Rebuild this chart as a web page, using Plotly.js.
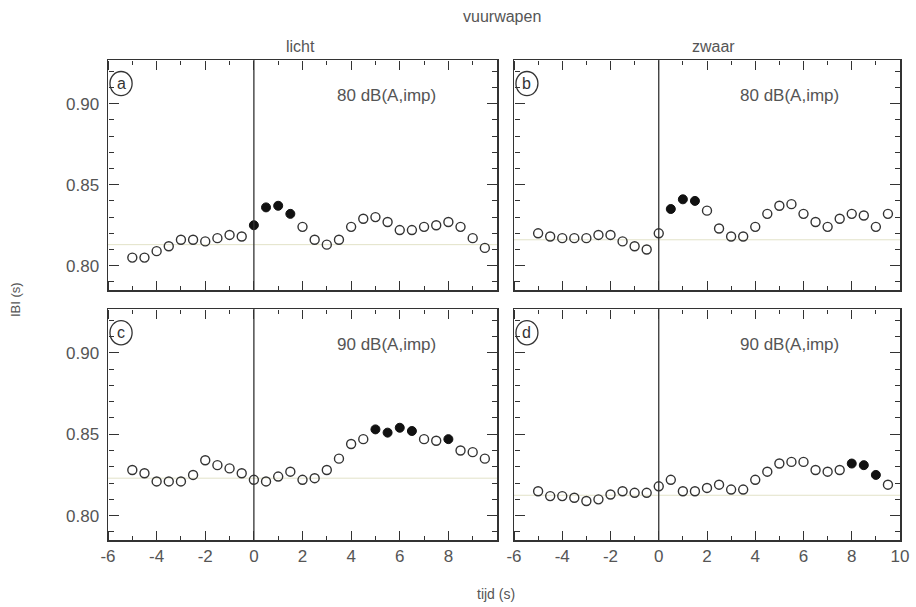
<!DOCTYPE html>
<html>
<head>
<meta charset="utf-8">
<script src="https://cdn.plot.ly/plotly-3.0.1.min.js"></script>
<style>html,body{margin:0;padding:0;background:#fff;}#chart{width:916px;height:607px;}</style>
</head>
<body>
<div id="chart"></div>
<script>
// time (s), 0.5 s steps
const tijd = [-5,-4.5,-4,-3.5,-3,-2.5,-2,-1.5,-1,-0.5,0,0.5,1,1.5,2,2.5,3,3.5,4,4.5,5,5.5,6,6.5,7,7.5,8,8.5,9,9.5];

// panel a: licht, 80 dB(A,imp)
const ibiA = [0.805,0.805,0.809,0.812,0.816,0.816,0.815,0.817,0.819,0.818,0.825,0.836,0.837,0.832,0.824,0.816,0.813,0.816,0.824,0.829,0.830,0.827,0.822,0.822,0.824,0.825,0.827,0.824,0.817,0.811];
const filledA = [0,0,0,0,0,0,0,0,0,0,1,1,1,1,0,0,0,0,0,0,0,0,0,0,0,0,0,0,0,0];
// panel b: zwaar, 80 dB(A,imp)
const ibiB = [0.820,0.818,0.817,0.817,0.817,0.819,0.819,0.815,0.812,0.810,0.820,0.835,0.841,0.840,0.834,0.823,0.818,0.818,0.824,0.832,0.837,0.838,0.832,0.827,0.824,0.829,0.832,0.831,0.824,0.832];
const filledB = [0,0,0,0,0,0,0,0,0,0,0,1,1,1,0,0,0,0,0,0,0,0,0,0,0,0,0,0,0,0];
// panel c: licht, 90 dB(A,imp)
const ibiC = [0.828,0.826,0.821,0.821,0.821,0.825,0.834,0.831,0.829,0.826,0.822,0.821,0.824,0.827,0.822,0.823,0.828,0.835,0.844,0.847,0.853,0.851,0.854,0.852,0.847,0.846,0.847,0.840,0.839,0.835];
const filledC = [0,0,0,0,0,0,0,0,0,0,0,0,0,0,0,0,0,0,0,0,1,1,1,1,0,0,1,0,0,0];
// panel d: zwaar, 90 dB(A,imp)
const ibiD = [0.815,0.812,0.812,0.811,0.809,0.810,0.813,0.815,0.814,0.814,0.818,0.822,0.815,0.815,0.817,0.819,0.816,0.816,0.822,0.827,0.832,0.833,0.833,0.828,0.827,0.828,0.832,0.831,0.825,0.819];
const filledD = [0,0,0,0,0,0,0,0,0,0,0,0,0,0,0,0,0,0,0,0,0,0,0,0,0,0,1,1,1,0];

const baselines = [0.813, 0.816, 0.823, 0.8125];
const panelLetters = ['a','b','c','d'];
const levelLabels = ['80 dB(A,imp)','80 dB(A,imp)','90 dB(A,imp)','90 dB(A,imp)'];
const columnTitles = ['licht','zwaar'];
const mainTitle = 'vuurwapen';
const xTitle = 'tijd (s)';
const yTitle = 'IBI (s)';
const xTicksLeft = [-6,-4,-2,0,2,4,6,8];
const xTicksRight = [-6,-4,-2,0,2,4,6,8,10];
const yTicks = [0.80, 0.85, 0.90];

const series = [ibiA, ibiB, ibiC, ibiD];
const fills = [filledA, filledB, filledC, filledD];

const W = 916, H = 607;
const xDom = [[108/W, 497/W],[514/W, 900/W]];
const yDom = [[(H-290)/H, (H-60)/H],[(H-540)/H, (H-309)/H]];
const xRange = [-6, 10], yRange = [0.785, 0.927];

const ink = '#333';
const textCol = '#555';
const fam = 'Liberation Sans, Arial, sans-serif';

const traces = [];
const layout = {
  width: W, height: H,
  margin: {l:0, r:0, t:0, b:0},
  paper_bgcolor: '#fff', plot_bgcolor: 'rgba(0,0,0,0)',
  showlegend: false,
  font: {family: fam, size: 17, color: textCol},
  shapes: [], annotations: []
};

// tick-only axes placed on each frame edge, facing inward
let nx = 5, ny = 5;
function tickAxisX(xa, ya, col, pos, side, major) {
  const id = 'x' + nx, key = 'xaxis' + nx; nx++;
  layout[key] = {domain: xDom[col], overlaying: xa, anchor: 'free', position: pos, side: side, range: xRange,
    tickmode: 'linear', tick0: -6, dtick: major ? 2 : 1, ticks: 'outside', ticklen: major ? 9 : 4,
    tickwidth: 1, tickcolor: ink, showticklabels: false, showline: false, showgrid: false,
    zeroline: false, fixedrange: true};
  traces.push({x: [], y: [], xaxis: id, yaxis: ya, type: 'scatter', mode: 'markers', hoverinfo: 'skip'});
}
function tickAxisY(xa, ya, row, pos, side, major) {
  const id = 'y' + ny, key = 'yaxis' + ny; ny++;
  layout[key] = {domain: yDom[row], overlaying: ya, anchor: 'free', position: pos, side: side, range: yRange,
    tickmode: 'linear', tick0: 0.80, dtick: major ? 0.05 : 0.01, ticks: 'outside', ticklen: major ? 10 : 5,
    tickwidth: 1, tickcolor: ink, showticklabels: false, showline: false, showgrid: false,
    zeroline: false, fixedrange: true};
  traces.push({x: [], y: [], xaxis: xa, yaxis: id, type: 'scatter', mode: 'markers', hoverinfo: 'skip'});
}

for (let p = 0; p < 4; p++) {
  const col = p % 2, row = Math.floor(p / 2);
  const xa = p === 0 ? 'x' : 'x' + (p+1);
  const ya = p === 0 ? 'y' : 'y' + (p+1);
  const xKey = p === 0 ? 'xaxis' : 'xaxis' + (p+1);
  const yKey = p === 0 ? 'yaxis' : 'yaxis' + (p+1);
  const y = series[p], f = fills[p];
  const xo = [], yo = [], xf = [], yf = [];
  for (let i = 0; i < tijd.length; i++) {
    if (f[i]) { xf.push(tijd[i]); yf.push(y[i]); } else { xo.push(tijd[i]); yo.push(y[i]); }
  }
  traces.push({x: xo, y: yo, xaxis: xa, yaxis: ya, type: 'scatter', mode: 'markers',
    marker: {symbol: 'circle-open', size: 9, color: ink, line: {width: 1.4, color: ink}}, cliponaxis: false});
  traces.push({x: xf, y: yf, xaxis: xa, yaxis: ya, type: 'scatter', mode: 'markers',
    marker: {symbol: 'circle', size: 9, color: '#111', line: {width: 1, color: '#111'}}, cliponaxis: false});

  const isBottom = row === 1;
  const tv = col === 0 ? xTicksLeft : xTicksRight;
  layout[xKey] = {
    domain: xDom[col], anchor: ya, range: xRange,
    tickmode: 'array', tickvals: tv, ticktext: tv.map(String),
    showticklabels: isBottom, ticks: '',
    showline: true, linecolor: ink, linewidth: 1.5, mirror: true,
    showgrid: false, zeroline: false,
    tickfont: {family: fam, size: 17, color: textCol},
    fixedrange: true
  };
  layout[yKey] = {
    domain: yDom[row], anchor: xa, range: yRange,
    tickmode: 'array', tickvals: yTicks, ticktext: yTicks.map(v => v.toFixed(2)),
    showticklabels: col === 0, ticks: '',
    showline: true, linecolor: ink, linewidth: 1.5, mirror: true,
    showgrid: false, zeroline: false,
    tickfont: {family: fam, size: 17, color: textCol},
    ticklabelstandoff: 4,
    fixedrange: true
  };

  // inward ticks on all four edges (major + minor)
  tickAxisX(xa, ya, col, yDom[row][0], 'top', true);
  tickAxisX(xa, ya, col, yDom[row][0], 'top', false);
  tickAxisX(xa, ya, col, yDom[row][1], 'bottom', true);
  tickAxisX(xa, ya, col, yDom[row][1], 'bottom', false);
  tickAxisY(xa, ya, row, xDom[col][0], 'right', true);
  tickAxisY(xa, ya, row, xDom[col][0], 'right', false);
  tickAxisY(xa, ya, row, xDom[col][1], 'left', true);
  tickAxisY(xa, ya, row, xDom[col][1], 'left', false);

  // baseline (pale reference level)
  layout.shapes.push({type: 'line', xref: xa + ' domain', yref: ya, x0: 0, x1: 1,
    y0: baselines[p], y1: baselines[p], line: {color: '#e2e2c8', width: 1}, layer: 'below'});
  // stimulus onset line at t = 0
  layout.shapes.push({type: 'line', xref: xa, yref: ya + ' domain', x0: 0, x1: 0, y0: 0, y1: 1,
    line: {color: ink, width: 1.3}});
  // circled panel letter
  layout.shapes.push({type: 'circle', xref: xa + ' domain', yref: ya + ' domain',
    x0: 0.005, x1: 0.062, y0: 0.845, y1: 0.95, line: {color: ink, width: 1.3}});
  layout.annotations.push({xref: xa + ' domain', yref: ya + ' domain', x: 0.0335, y: 0.898,
    text: panelLetters[p], showarrow: false, xanchor: 'center', yanchor: 'middle',
    font: {family: fam, size: 16, color: ink}});
  layout.annotations.push({xref: xa + ' domain', yref: ya + ' domain', x: 0.715, y: 0.845,
    text: levelLabels[p], showarrow: false, xanchor: 'center', yanchor: 'middle',
    font: {family: fam, size: 17, color: textCol}});
}

// titles
layout.annotations.push({xref: 'paper', yref: 'paper', x: 0.548, y: (H-17)/H, text: mainTitle,
  showarrow: false, xanchor: 'center', yanchor: 'middle', font: {family: fam, size: 16, color: textCol}});
layout.annotations.push({xref: 'paper', yref: 'paper', x: 300/W, y: (H-46)/H, text: columnTitles[0],
  showarrow: false, xanchor: 'center', yanchor: 'middle', font: {family: fam, size: 16, color: textCol}});
layout.annotations.push({xref: 'paper', yref: 'paper', x: 713/W, y: (H-46)/H, text: columnTitles[1],
  showarrow: false, xanchor: 'center', yanchor: 'middle', font: {family: fam, size: 16, color: textCol}});
layout.annotations.push({xref: 'paper', yref: 'paper', x: 496/W, y: (H-594)/H, text: xTitle,
  showarrow: false, xanchor: 'center', yanchor: 'middle', font: {family: fam, size: 14, color: textCol}});
layout.annotations.push({xref: 'paper', yref: 'paper', x: 15/W, y: (H-300)/H, text: yTitle, textangle: -90,
  showarrow: false, xanchor: 'center', yanchor: 'middle', font: {family: fam, size: 13, color: textCol}});

Plotly.newPlot('chart', traces, layout, {staticPlot: true, displayModeBar: false});
</script>
</body>
</html>
